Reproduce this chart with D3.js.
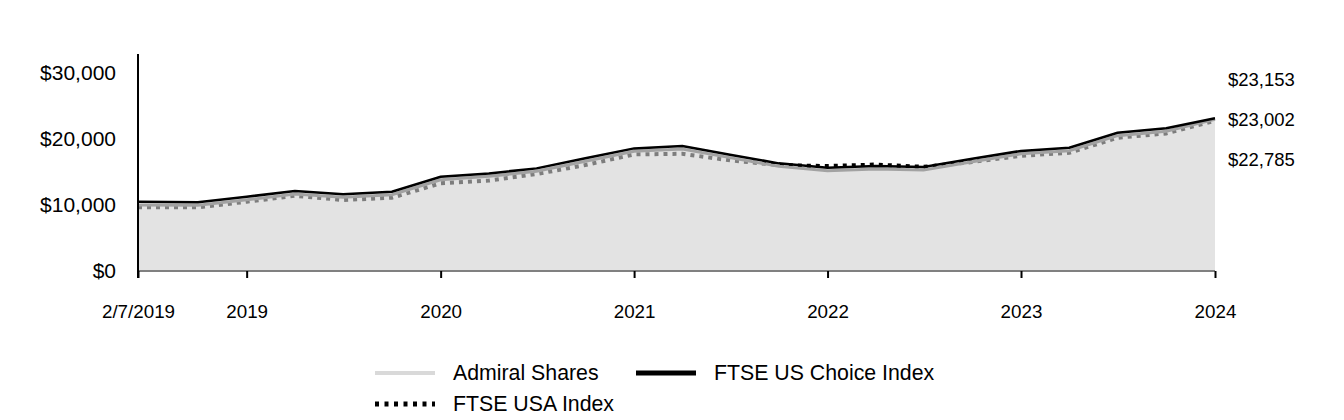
<!DOCTYPE html>
<html>
<head>
<meta charset="utf-8">
<script src="https://cdn.jsdelivr.net/npm/d3@7"></script>
<style>
  body { margin: 0; background: #fff; }
  text { font-family: "Liberation Sans", Arial, sans-serif; fill: #000; }
</style>
</head>
<body>
<div id="chart"></div>
<script>
// quarter-end dates (fiscal year ends Aug 31)
var dates = ["2019-02-07","2019-05-31","2019-08-31","2019-11-30","2020-02-29","2020-05-31",
  "2020-08-31","2020-11-30","2021-02-28","2021-05-31","2021-08-31","2021-11-30","2022-02-28",
  "2022-05-31","2022-08-31","2022-11-30","2023-02-28","2023-05-31","2023-08-31","2023-11-30",
  "2024-02-29","2024-05-31","2024-08-31"];

var admiral = [10000, 9960, 10800, 11670, 11170, 11570, 13840, 14350, 15110, 16630, 18140, 18490,
  17190, 15870, 15200, 15460, 15310, 16570, 17760, 18230, 20520, 21190, 23002];
var choiceIdx = [10500, 10410, 11260, 12120, 11620, 12020, 14290, 14800, 15560, 17080, 18590, 18940,
  17640, 16320, 15650, 15910, 15760, 17020, 18210, 18680, 20970, 21640, 23153];
var usaIdx = [9650, 9650, 10500, 11410, 10760, 11110, 13290, 13710, 14700, 16060, 17680, 17770,
  16770, 16060, 15910, 16140, 15790, 16520, 17470, 17920, 20200, 20860, 22785];

var yTicks = [0, 10000, 20000, 30000];
var xTickDates = ["2019-02-07","2019-08-31","2020-08-31","2021-08-31","2022-08-31","2023-08-31","2024-08-31"];
var xTickLabels = ["2/7/2019","2019","2020","2021","2022","2023","2024"];
var endLabels = ["$23,153", "$23,002", "$22,785"];

var parse = d3.timeParse("%Y-%m-%d");
var data = dates.map(function(d, i) {
  return { date: parse(d), admiral: admiral[i], choice: choiceIdx[i], usa: usaIdx[i] };
});

var W = 1344, H = 420;
var plotLeft = 138, plotRight = 1215, plotTop = 54, plotBottom = 271;

var svg = d3.select("#chart").append("svg")
    .attr("width", W)
    .attr("height", H);

var x = d3.scaleTime()
    .domain([parse(dates[0]), parse(dates[dates.length - 1])])
    .range([plotLeft, plotRight]);

var y = d3.scaleLinear()
    .domain([0, 32900])
    .range([plotBottom, plotTop]);

var lineOf = function(key) {
  return d3.line()
    .x(function(d) { return x(d.date); })
    .y(function(d) { return y(d[key]); });
};

// FTSE USA Index (dotted, sits under the translucent area)
svg.append("path")
    .datum(data)
    .attr("d", lineOf("usa"))
    .attr("fill", "none")
    .attr("stroke", "#000")
    .attr("stroke-width", 4)
    .attr("stroke-dasharray", "4,5");

// Admiral Shares area
var area = d3.area()
    .x(function(d) { return x(d.date); })
    .y0(y(0))
    .y1(function(d) { return y(d.admiral); });

svg.append("path")
    .datum(data)
    .attr("d", area)
    .attr("fill", "#d0d0d0")
    .attr("fill-opacity", 0.6);

svg.append("path")
    .datum(data)
    .attr("d", lineOf("admiral"))
    .attr("fill", "none")
    .attr("stroke", "#a2a2a2")
    .attr("stroke-width", 3);

// FTSE US Choice Index
svg.append("path")
    .datum(data)
    .attr("d", lineOf("choice"))
    .attr("fill", "none")
    .attr("stroke", "#000")
    .attr("stroke-width", 2.5);

// x axis
svg.append("line")
    .attr("x1", plotLeft).attr("x2", plotRight)
    .attr("y1", plotBottom).attr("y2", plotBottom)
    .attr("stroke", "#808080")
    .attr("stroke-width", 2);

var xAxis = d3.axisBottom(x)
    .tickValues(xTickDates.map(parse))
    .tickSize(7)
    .tickFormat(function(d, i) { return xTickLabels[i]; });

var gx = svg.append("g")
    .attr("transform", "translate(0," + plotBottom + ")")
    .call(xAxis);
gx.select(".domain").remove();
gx.selectAll(".tick line").attr("stroke", "#000").attr("stroke-width", 2);
gx.selectAll(".tick text")
    .attr("y", 40)
    .attr("dy", "0.35em")
    .style("font-size", "18.8px")
    .style("font-family", "Liberation Sans, Arial, sans-serif");

// y axis
svg.append("line")
    .attr("x1", plotLeft).attr("x2", plotLeft)
    .attr("y1", plotTop).attr("y2", plotBottom + 7)
    .attr("stroke", "#000")
    .attr("stroke-width", 2);

svg.selectAll(".ylab")
    .data(yTicks)
    .enter().append("text")
    .attr("class", "ylab")
    .attr("x", 116)
    .attr("y", function(d) { return y(d); })
    .attr("dy", "0.35em")
    .style("text-anchor", "end")
    .style("font-size", "21px")
    .text(function(d) { return "$" + d3.format(",")(d); });

// end value labels
svg.selectAll(".endlab")
    .data(endLabels)
    .enter().append("text")
    .attr("class", "endlab")
    .attr("x", 1228)
    .attr("y", function(d, i) { return 80 + i * 40; })
    .attr("dy", "0.35em")
    .style("font-size", "18.5px")
    .text(function(d) { return d; });

// legend
var legendItems = [
  { name: "Admiral Shares", color: "#d9d9d9", width: 4, dash: null, lx: 375, ly: 373 },
  { name: "FTSE US Choice Index", color: "#000", width: 5, dash: null, lx: 636, ly: 373 },
  { name: "FTSE USA Index", color: "#000", width: 5, dash: "4,5.5", lx: 375, ly: 404 }
];

var legend = svg.selectAll(".legend")
    .data(legendItems)
    .enter().append("g")
    .attr("class", "legend")
    .attr("transform", function(d) { return "translate(" + d.lx + "," + d.ly + ")"; });

legend.append("line")
    .attr("x1", 0).attr("x2", 60)
    .attr("stroke", function(d) { return d.color; })
    .attr("stroke-width", function(d) { return d.width; })
    .attr("stroke-dasharray", function(d) { return d.dash; });

legend.append("text")
    .attr("x", 78)
    .attr("dy", "0.35em")
    .style("font-size", "21.3px")
    .text(function(d) { return d.name; });
</script>
</body>
</html>
